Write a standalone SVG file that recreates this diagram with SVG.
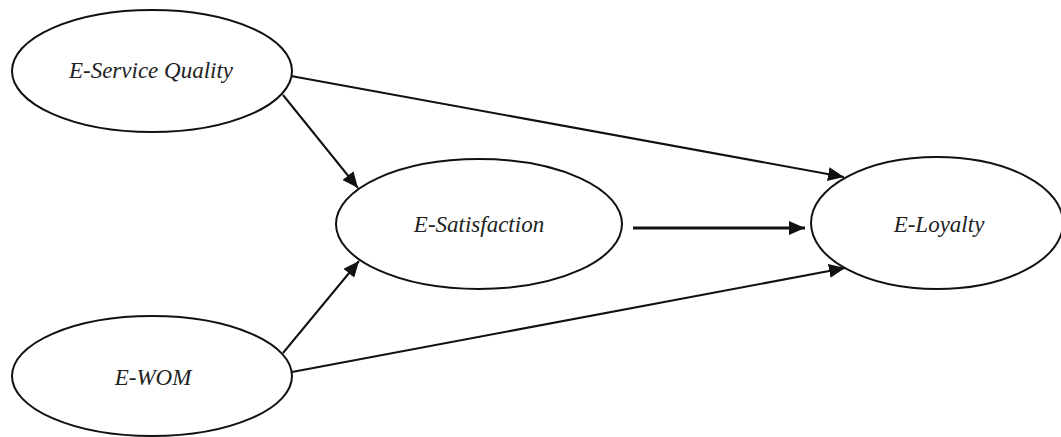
<svg xmlns="http://www.w3.org/2000/svg" width="1061" height="437" viewBox="0 0 1061 437">
<style>
.node ellipse{fill:#fff;stroke:#111;stroke-width:2}
.node text{font-family:"Liberation Serif","Times New Roman",serif;font-style:italic;font-size:23px;fill:#222;text-anchor:middle}
.edge{stroke:#111;stroke-width:2;fill:none;marker-end:url(#ah)}
.edge.thick{stroke-width:3}
</style>
<defs>
<marker id="ah" markerUnits="userSpaceOnUse" markerWidth="18" markerHeight="14" refX="16" refY="7" orient="auto">
<path d="M0,0 L16,7 L0,14 Z" fill="#111"/>
</marker>
</defs>
<rect width="1061" height="437" fill="#fff"/>
<g id="connectors">
<line class="edge" x1="283" y1="95" x2="358" y2="188"/>
<line class="edge" x1="291" y1="76" x2="844" y2="177"/>
<line class="edge thick" x1="633" y1="228" x2="805" y2="228"/>
<line class="edge" x1="283" y1="353" x2="359" y2="261"/>
<line class="edge" x1="292" y1="372" x2="845" y2="268"/>
</g>
<g id="n-esq" class="node">
<ellipse cx="152" cy="71" rx="140" ry="61"/>
<text x="151" y="78">E-Service Quality</text>
</g>
<g id="n-esat" class="node">
<ellipse cx="479" cy="224" rx="143" ry="65"/>
<text x="479" y="232">E-Satisfaction</text>
</g>
<g id="n-eloy" class="node">
<ellipse cx="937" cy="223" rx="126" ry="66"/>
<text x="939" y="232">E-Loyalty</text>
</g>
<g id="n-ewom" class="node">
<ellipse cx="152" cy="376" rx="140" ry="60"/>
<text x="153" y="385">E-WOM</text>
</g>
</svg>
